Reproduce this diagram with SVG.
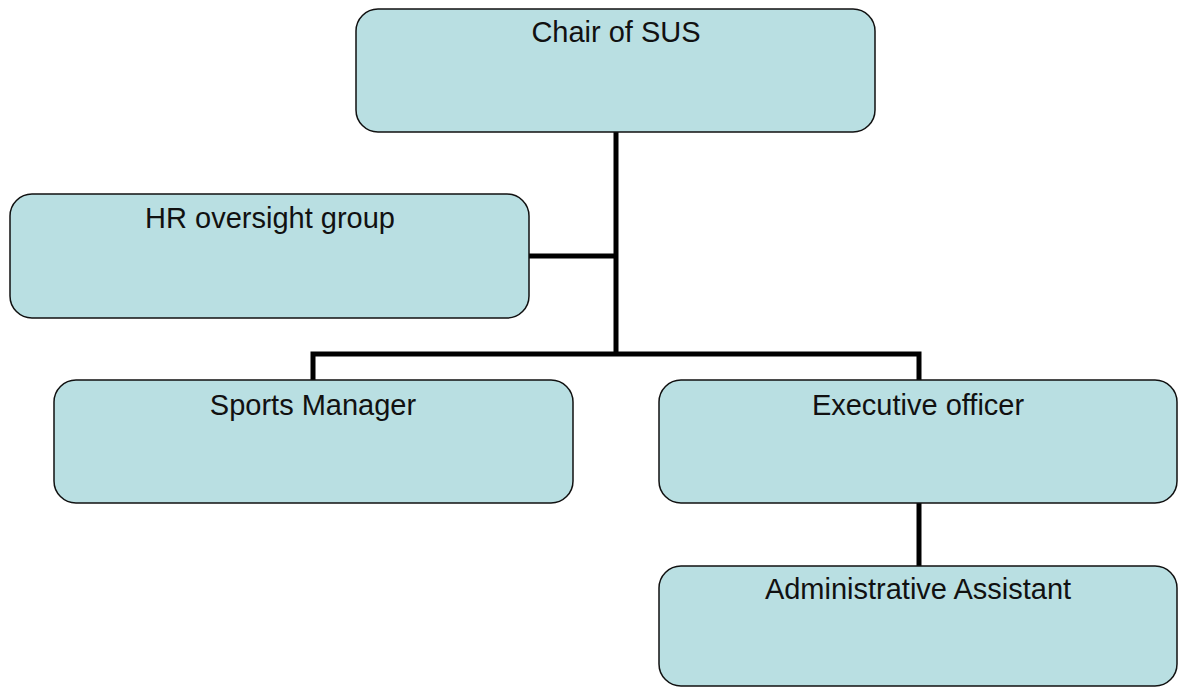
<svg xmlns="http://www.w3.org/2000/svg" width="1178" height="687" viewBox="0 0 1178 687">
<style>
.box{fill:#b9dfe2;stroke:#111;stroke-width:1.5}
.lbl{font-family:"Liberation Sans",Arial,sans-serif;font-size:29px;fill:#111;text-anchor:middle}
.con{fill:none;stroke:#000;stroke-width:5}
</style>
<rect width="1178" height="687" fill="#fff"/>
<g id="connectors">
<path class="con" d="M616,132 V354"/>
<path class="con" d="M529,256 H616"/>
<path class="con" d="M313,380 V354 H919 V380"/>
<path class="con" d="M919,503 V566"/>
</g>
<g id="chair"><rect class="box" x="356" y="9" width="519" height="123" rx="22"/><text class="lbl" x="616" y="42">Chair of SUS</text></g>
<g id="hr"><rect class="box" x="10" y="194" width="519" height="124" rx="22"/><text class="lbl" x="270" y="228">HR oversight group</text></g>
<g id="sports"><rect class="box" x="54" y="380" width="519" height="123" rx="22"/><text class="lbl" x="313" y="415">Sports Manager</text></g>
<g id="exec"><rect class="box" x="659" y="380" width="518" height="123" rx="22"/><text class="lbl" x="918" y="415">Executive officer</text></g>
<g id="admin"><rect class="box" x="659" y="566" width="518" height="120" rx="22"/><text class="lbl" x="918" y="599">Administrative Assistant</text></g>
</svg>
